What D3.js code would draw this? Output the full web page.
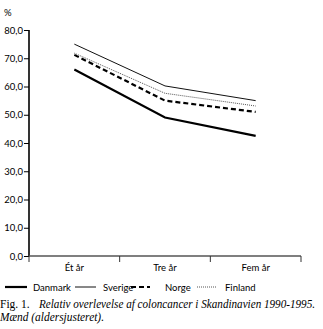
<!DOCTYPE html>
<html><head><meta charset="utf-8">
<script src="https://cdn.jsdelivr.net/npm/d3@7"></script>
<style>body{margin:0;background:#fff}svg{display:block}</style>
</head><body>
<script>
const categories = ["Ét år", "Tre år", "Fem år"];
const danmark = [66.0, 49.0, 42.5];
const sverige = [75.0, 60.2, 55.0];
const norge = [71.2, 55.0, 51.0];
const finland = [71.8, 57.6, 53.1];
const yTicks = [0, 10, 20, 30, 40, 50, 60, 70, 80];
const seriesNames = ["Danmark", "Sverige", "Norge", "Finland"];

const series = [
  {name: seriesNames[0], values: danmark, width: 2.2, dash: null, color: "#000"},
  {name: seriesNames[1], values: sverige, width: 1, dash: null, color: "#111"},
  {name: seriesNames[2], values: norge, width: 2.2, dash: "5,3", color: "#000"},
  {name: seriesNames[3], values: finland, width: 1, dash: "1,1", color: "#555"}
];

const W = 323, H = 329;
const svg = d3.select("body").append("svg").attr("width", W).attr("height", H);
const mLeft = 29, mRight = 301, mTop = 30, mBottom = 256;

const x = d3.scaleBand().domain(categories).range([mLeft, mRight]).paddingInner(0).paddingOuter(0);
const y = d3.scaleLinear().domain([0, 80]).range([mBottom, mTop]);

const sans = "Lato, 'Open Sans', sans-serif";
const fs = 9.5;

// Y axis
const ya = svg.append("g").attr("transform", `translate(${mLeft},0)`)
  .call(d3.axisLeft(y).tickValues(yTicks).tickFormat(d => d3.format(".1f")(d).replace(".", ",")).tickSize(5).tickPadding(1));
ya.select(".domain").attr("stroke", "#000").attr("stroke-width", 1.6).attr("d", `M0,${mTop}V${mBottom}`);
ya.selectAll(".tick line").attr("stroke", "#000").attr("stroke-width", 1);
ya.selectAll("text").attr("font-family", sans).attr("font-size", fs).attr("fill", "#000");

// X axis
const xa = svg.append("g").attr("transform", `translate(0,${mBottom})`);
xa.append("line").attr("x1", mLeft).attr("x2", mRight).attr("y1", 0).attr("y2", 0)
  .attr("stroke", "#555").attr("stroke-width", 1.5);
const bounds = categories.map(c => x(c)).concat([x(categories[categories.length-1]) + x.bandwidth()]);
xa.selectAll(".xt").data(bounds).enter().append("line")
  .attr("x1", d => d).attr("x2", d => d).attr("y1", 0).attr("y2", 6)
  .attr("stroke", "#333").attr("stroke-width", 1);
xa.selectAll(".xl").data(categories).enter().append("text")
  .attr("x", d => x(d) + x.bandwidth()/2).attr("y", 15)
  .attr("text-anchor", "middle").attr("font-family", sans).attr("font-size", fs)
  .text(d => d);

// % label
svg.append("text").attr("x", 4).attr("y", 16).attr("font-family", sans).attr("font-size", fs).text("%");

// Lines
const line = d3.line().x((d, i) => x(categories[i]) + x.bandwidth()/2).y(d => y(d));
series.forEach(s => {
  svg.append("path").attr("d", line(s.values)).attr("fill", "none")
    .attr("stroke", s.color).attr("stroke-width", s.width)
    .attr("stroke-dasharray", s.dash);
});

// Legend
const legend = [
  {x1: 5, x2: 27, tx: 33},
  {x1: 75, x2: 96, tx: 103},
  {x1: 131, x2: 150, tx: 165},
  {x1: 197, x2: 217, tx: 225}
];
const ly = 287;
series.forEach((s, i) => {
  const l = legend[i];
  svg.append("line").attr("x1", l.x1).attr("x2", l.x2).attr("y1", ly).attr("y2", ly)
    .attr("stroke", s.color).attr("stroke-width", s.width).attr("stroke-dasharray", s.dash);
  svg.append("text").attr("x", l.tx).attr("y", ly + 3.5).attr("font-family", sans).attr("font-size", fs).text(s.name);
});

// Caption
const serif = "'Liberation Serif', 'DejaVu Serif', serif";
svg.append("text").attr("x", 0).attr("y", 308).attr("font-family", serif).attr("font-size", 11.5).text("Fig. 1.");
svg.append("text").attr("x", 39).attr("y", 308).attr("font-family", serif).attr("font-size", 11.5)
  .attr("font-style", "italic").attr("textLength", 276).attr("lengthAdjust", "spacingAndGlyphs")
  .text("Relativ overlevelse af coloncancer i Skandinavien 1990-1995.");
svg.append("text").attr("x", 0).attr("y", 321).attr("font-family", serif).attr("font-size", 11.5)
  .attr("font-style", "italic").attr("textLength", 104).attr("lengthAdjust", "spacingAndGlyphs")
  .text("Mænd (aldersjusteret).");
</script>
</body></html>
